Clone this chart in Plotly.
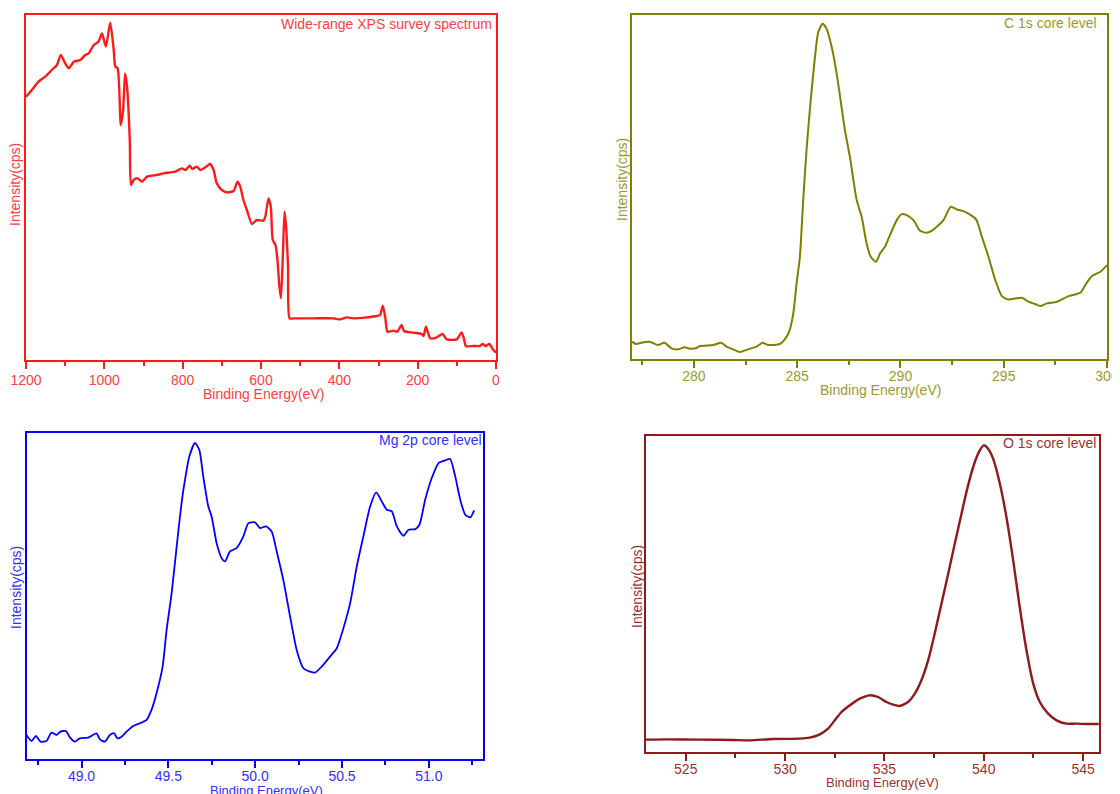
import plotly.graph_objects as go

# ---------------- Data ----------------
survey_be = [1200, 1185, 1168, 1151, 1134, 1121, 1111, 1100, 1091, 1078, 1061, 1049, 1040, 1027,
             1015, 1006, 996, 985, 976, 972, 966, 958, 952, 947, 942, 935, 932, 925, 915, 904,
             891, 866, 849, 819, 802, 793, 782, 776, 764, 755, 742, 730, 721, 713, 700, 687,
             670, 660, 653, 645, 636, 623, 611, 594, 589, 581, 575, 570, 563, 558, 553, 549,
             544, 540, 536, 531, 527, 517, 500, 466, 415, 398, 381, 364, 330, 304, 296, 289,
             283, 277, 262, 252, 241, 235, 211, 190, 185, 179, 173, 168, 151, 136, 126, 100,
             88, 82, 77, 58, 41, 34, 26, 17, 8, 0]
survey_int = [79000, 81000, 83500, 85000, 87000, 88500, 91500, 89000, 87500, 89500, 90000, 91500,
              92000, 94500, 95500, 98000, 94000, 101200, 93000, 88000, 87500, 70500, 75000, 86000,
              82000, 66000, 52500, 54000, 54500, 53500, 55000, 55500, 56000, 56500, 57500, 57000,
              58300, 57300, 58000, 57000, 57800, 58800, 57000, 53000, 51000, 50300, 50700, 53500,
              52000, 48000, 45000, 40800, 42000, 41800, 43000, 48500, 46000, 36000, 34500, 30000,
              22000, 18500, 32000, 44500, 40000, 28000, 12500, 12500, 12500, 12500, 12500, 12200,
              12800, 12500, 12800, 13200, 13500, 16300, 13000, 8500, 8800, 8500, 10500, 8700,
              8200, 7800, 7200, 10000, 8000, 6500, 6800, 7800, 6200, 6200, 8300, 6500, 4200,
              4200, 4200, 4800, 4200, 4800, 3200, 2200]

c1s_be = [277.0, 277.2, 277.45, 277.86, 278.26, 278.58, 278.91, 279.23, 279.55, 279.8, 280.12,
          280.28, 280.93, 281.33, 281.57, 281.9, 282.22, 282.62, 283.03, 283.32, 283.59, 284.16,
          284.4, 284.61, 284.81, 284.97, 285.13, 285.29, 285.45, 285.61, 285.81, 286.02, 286.23,
          286.42, 286.67, 286.91, 287.1, 287.31, 287.55, 287.88, 288.12, 288.36, 288.56, 288.82,
          289.01, 289.25, 289.49, 289.82, 290.06, 290.3, 290.63, 290.95, 291.27, 291.51, 291.76,
          292.08, 292.44, 292.73, 293.13, 293.66, 293.94, 294.26, 294.59, 294.91, 295.23, 295.88,
          296.2, 296.52, 296.77, 297.09, 297.58, 298.14, 298.71, 298.95, 299.27, 299.68, 300.0]
c1s_int = [5200, 4500, 4900, 5200, 4200, 4900, 3200, 2900, 3500, 3100, 3300, 3900, 4200, 4900,
           3700, 2900, 2100, 2900, 3700, 4900, 4200, 4500, 5900, 8200, 13700, 22700, 30700, 47700,
           62700, 74700, 87700, 98200, 100700, 99200, 93700, 85700, 77700, 68700, 60700, 47700,
           42700, 34700, 30700, 29200, 31700, 33700, 37200, 41700, 43500, 43200, 41700, 38500,
           37900, 38500, 39700, 41700, 45700, 44900, 44200, 41900, 36700, 30700, 23700, 18900,
           17900, 18400, 17200, 16500, 15900, 16700, 17200, 18900, 19900, 22200, 24900, 26200,
           28200]

mg2p_be = [48.683, 48.712, 48.737, 48.764, 48.798, 48.827, 48.856, 48.879, 48.91, 48.933, 48.962,
           48.99, 49.038, 49.086, 49.106, 49.134, 49.163, 49.188, 49.206, 49.231, 49.259, 49.298,
           49.336, 49.375, 49.403, 49.432, 49.467, 49.49, 49.519, 49.548, 49.576, 49.596, 49.621,
           49.653, 49.678, 49.701, 49.73, 49.749, 49.778, 49.807, 49.826, 49.855, 49.893, 49.932,
           49.961, 49.999, 50.028, 50.062, 50.095, 50.124, 50.162, 50.201, 50.239, 50.278, 50.316,
           50.345, 50.383, 50.431, 50.47, 50.508, 50.547, 50.585, 50.623, 50.662, 50.697, 50.729,
           50.758, 50.787, 50.816, 50.854, 50.883, 50.922, 50.946, 50.979, 51.017, 51.056, 51.094,
           51.123, 51.152, 51.181, 51.21, 51.239, 51.261]
mg2p_int = [7200, 5400, 6900, 5200, 5400, 7900, 7200, 8200, 8400, 6500, 5200, 6200, 6400, 7700,
            5900, 5200, 7200, 7700, 6200, 6700, 8200, 9900, 10700, 11700, 14700, 19700, 27700,
            38700, 49700, 63700, 76700, 83700, 90700, 94700, 92700, 84700, 75700, 72700, 64700,
            60200, 59200, 62200, 63200, 66700, 70700, 70900, 69200, 69700, 68200, 62200, 53700,
            42700, 32700, 27200, 26200, 25900, 27700, 30700, 33200, 39200, 46700, 57700, 66700,
            75700, 79900, 77200, 74700, 74200, 69700, 66900, 68700, 68900, 70200, 77700, 84200,
            88700, 89500, 89900, 84700, 77700, 73200, 72400, 74500]

o1s_be = [523.0, 524.03, 525.7, 527.38, 528.22, 529.4, 530.74, 531.24, 531.75, 532.16, 532.5,
          532.84, 533.26, 533.76, 534.26, 534.68, 535.1, 535.44, 535.77, 536.19, 536.53, 536.86,
          537.2, 537.53, 537.87, 538.21, 538.54, 538.88, 539.21, 539.55, 539.8, 540.0, 540.22,
          540.47, 540.81, 541.14, 541.48, 541.81, 542.15, 542.49, 542.82, 543.24, 543.66, 544.16,
          544.67, 545.17, 545.79]
o1s_int = [3700, 3800, 3700, 3600, 3500, 3900, 4000, 4300, 5300, 7000, 9500, 12000, 14000, 16000,
           17000, 16500, 15000, 14200, 13800, 15000, 17500, 21500, 27500, 35500, 44500, 53500,
           62500, 71500, 80000, 87000, 90500, 92000, 91000, 88000, 80500, 70500, 57500, 43500,
           30500, 20500, 15000, 11500, 9500, 8500, 8500, 8400, 8400]

titles = ["Wide-range XPS survey spectrum", "C 1s core level", "Mg 2p core level", "O 1s core level"]
x_label = "Binding Energy(eV)"
y_label = "Intensity(cps)"

# ---------------- Styling / layout ----------------
FONT = "Liberation Sans, Arial, sans-serif"
OFF = 8                      # page body margin of the html page
W, H = 1120 - OFF, 794 - OFF

panels = [
    dict(x=survey_be, y=survey_int, color="#FF1A1A", text="#FF4040", lw=2.4,
         px=(26, 496), py=(15, 360), xr=[1200, 0], yr=[0, 103500], dtick=200, minor=100,
         fmt=None, so=-1, tpos=(494, 24), ylab=(15, 185), xlab=(263, 394), xls=14),
    dict(x=c1s_be, y=c1s_int, color="#7F7F00", text="#9A9A30", lw=2.0,
         px=(632, 1107), py=(15, 359), xr=[277, 300], yr=[0, 103300], dtick=5, minor=2.5,
         fmt=None, so=-4, tpos=(1099, 23), ylab=(622, 180), xlab=(880, 390), xls=14),
    dict(x=mg2p_be, y=mg2p_int, color="#0000FF", text="#3030FF", lw=1.8,
         px=(27, 483), py=(433, 759), xr=[48.686, 51.312], yr=[0, 97700], dtick=0.5, minor=0.25,
         fmt=".1f", so=-4, tpos=(484, 440), ylab=(16, 588), xlab=(266, 790), xls=13),
    dict(x=o1s_be, y=o1s_int, color="#8E1A1A", text="#A03030", lw=2.4,
         px=(646, 1099), py=(436, 752), xr=[523, 545.8], yr=[0, 94800], dtick=5, minor=2.5,
         fmt=None, so=-4, tpos=(1098, 443), ylab=(637, 587), xlab=(882, 782), xls=13),
]

fig = go.Figure()
annotations = []
layout = dict(
    width=W, height=H, margin=dict(l=0, r=0, t=0, b=0, pad=0),
    paper_bgcolor="white", plot_bgcolor="white", showlegend=False,
    font=dict(family=FONT),
)


def fx(p):
    return (p - OFF) / W


def fy(p):
    return 1 - (p - OFF) / H


for i, p in enumerate(panels, start=1):
    xa = "x" if i == 1 else f"x{i}"
    ya = "y" if i == 1 else f"y{i}"
    fig.add_trace(go.Scatter(x=p["x"], y=p["y"], mode="lines",
                             line=dict(color=p["color"], width=p["lw"], shape="spline", smoothing=0.6),
                             xaxis=xa, yaxis=ya, hoverinfo="skip"))
    xkey = "xaxis" if i == 1 else f"xaxis{i}"
    ykey = "yaxis" if i == 1 else f"yaxis{i}"
    layout[xkey] = dict(
        domain=[fx(p["px"][0]), fx(p["px"][1])], anchor=ya, range=p["xr"], automargin=False,
        showline=True, linecolor=p["color"], linewidth=2, mirror=True,
        showgrid=False, zeroline=False, ticks="outside", ticklen=7, tickwidth=2,
        tickcolor=p["color"], dtick=p["dtick"], tick0=0, ticklabelstandoff=p["so"],
        tickformat=p["fmt"] if p["fmt"] else "",
        tickfont=dict(size=14, color=p["text"], family=FONT),
        minor=dict(dtick=p["minor"], ticks="outside", ticklen=4, tickwidth=2,
                   tickcolor=p["color"], showgrid=False),
    )
    layout[ykey] = dict(
        domain=[fy(p["py"][1]), fy(p["py"][0])], anchor=xa, range=p["yr"], automargin=False,
        showline=True, linecolor=p["color"], linewidth=2, mirror=True,
        showgrid=False, zeroline=False, showticklabels=False, ticks="",
    )
    annotations.append(dict(
        text=titles[i - 1], xref="paper", yref="paper", x=fx(p["tpos"][0]), y=fy(p["tpos"][1]),
        xanchor="right", yanchor="middle", showarrow=False,
        font=dict(size=14, color=p["text"], family=FONT)))
    annotations.append(dict(
        text=y_label, xref="paper", yref="paper", x=fx(p["ylab"][0]), y=fy(p["ylab"][1]),
        xanchor="center", yanchor="middle", showarrow=False, textangle=-90,
        font=dict(size=14, color=p["text"], family=FONT)))
    annotations.append(dict(
        text=x_label, xref="paper", yref="paper", x=fx(p["xlab"][0]), y=fy(p["xlab"][1]),
        xanchor="center", yanchor="middle", showarrow=False,
        font=dict(size=p["xls"], color=p["text"], family=FONT)))

layout["annotations"] = annotations
fig.update_layout(**layout)
fig.write_html("out.html")
